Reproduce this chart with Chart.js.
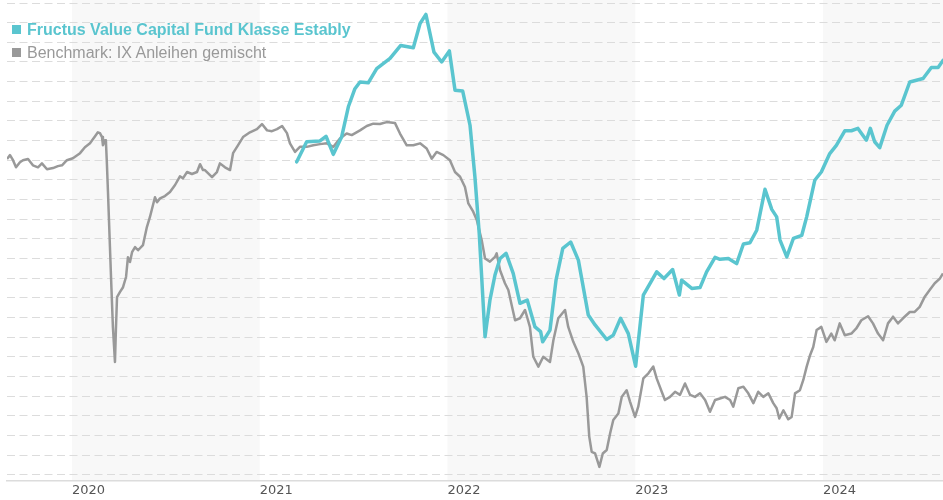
<!DOCTYPE html>
<html>
<head>
<meta charset="utf-8">
<script src="https://cdn.jsdelivr.net/npm/chart.js@4.4.1/dist/chart.umd.min.js"></script>
<style>
  html, body { margin: 0; padding: 0; background: #ffffff; }
  #wrap { position: relative; width: 943px; height: 500px; }
  #legend { position: absolute; left: 0; top: 0; font-family: "Liberation Sans", Arial, sans-serif; font-size: 16px; line-height: 16px; }
  .item { position: absolute; left: 12px; white-space: nowrap; }
  .sw { position: absolute; left: 0; width: 9px; height: 9px; }
  .lbl { position: absolute; left: 15px; white-space: nowrap; }
</style>
</head>
<body>
<div id="wrap">
  <canvas id="c" width="943" height="500"></canvas>
  <div id="legend"></div>
</div>
<script>
// ---- data ----
// dates as decimal years
const xStart = 2019.654;
const xEnd = 2024.639;
const yearTicks = [2020, 2021, 2022, 2023, 2024];
const shadedYears = [2020, 2022, 2024];

const fundName = "Fructus Value Capital Fund Klasse Estably";
const benchName = "Benchmark: IX Anleihen gemischt";

const fundDates = [
  2021.197, 2021.250, 2021.321, 2021.353, 2021.392, 2021.436, 2021.472, 2021.507, 2021.534, 2021.578,
  2021.623, 2021.694, 2021.751, 2021.818, 2021.854, 2021.885, 2021.928, 2021.969, 2022.010, 2022.040,
  2022.081, 2022.120, 2022.146, 2022.169, 2022.200, 2022.226, 2022.253, 2022.280, 2022.312, 2022.350,
  2022.386, 2022.425, 2022.466, 2022.496, 2022.507, 2022.546, 2022.578, 2022.614, 2022.656, 2022.697,
  2022.750, 2022.786, 2022.848, 2022.883, 2022.922, 2022.963, 2023.002, 2023.043, 2023.079, 2023.114,
  2023.153, 2023.199, 2023.235, 2023.247, 2023.301, 2023.345, 2023.380, 2023.425, 2023.451, 2023.496,
  2023.540, 2023.576, 2023.611, 2023.647, 2023.691, 2023.727, 2023.753, 2023.771, 2023.807, 2023.842,
  2023.887, 2023.913, 2023.956, 2023.991, 2024.036, 2024.071, 2024.116, 2024.151, 2024.186, 2024.231,
  2024.252, 2024.275, 2024.302, 2024.341, 2024.382, 2024.417, 2024.462, 2024.533, 2024.577, 2024.613,
  2024.639
];
const fundValues = [
  79.6, 84.7, 84.9, 86.1, 81.5, 85.9, 93.6, 98.2, 99.9, 99.7,
  103.3, 105.9, 109.2, 108.6, 114.8, 117.1, 107.5, 105.0, 107.8, 97.8,
  97.6, 88.9, 75.8, 61.4, 35.1, 44.4, 50.8, 55.0, 56.3, 51.2,
  43.6, 44.4, 37.6, 36.4, 33.8, 36.8, 49.5, 57.6, 59.2, 54.6,
  40.6, 38.1, 34.4, 35.5, 39.8, 35.9, 27.6, 45.7, 48.7, 51.6,
  49.9, 52.2, 45.7, 49.5, 47.4, 47.6, 51.6, 55.3, 54.8, 55.0,
  53.7, 58.7, 59.0, 62.2, 72.6, 67.5, 65.6, 59.7, 55.4, 60.1,
  60.9, 65.6, 74.9, 77.0, 81.7, 83.8, 87.5, 87.5, 88.1, 85.1,
  88.1, 84.7, 83.2, 88.9, 92.5, 94.0, 99.9, 100.8, 103.6, 103.6,
  105.4
];

const benchDates = [
  2019.654, 2019.670, 2019.686, 2019.702, 2019.723, 2019.739, 2019.766, 2019.792, 2019.819, 2019.840,
  2019.867, 2019.899, 2019.925, 2019.947, 2019.973, 2020.005, 2020.043, 2020.069, 2020.096, 2020.123,
  2020.138, 2020.149, 2020.160, 2020.165, 2020.176, 2020.181, 2020.186, 2020.192, 2020.208, 2020.218,
  2020.229, 2020.234, 2020.240, 2020.256, 2020.272, 2020.288, 2020.298, 2020.309, 2020.320, 2020.336,
  2020.352, 2020.378, 2020.399, 2020.415, 2020.442, 2020.453, 2020.469, 2020.495, 2020.522, 2020.549,
  2020.575, 2020.591, 2020.613, 2020.639, 2020.666, 2020.682, 2020.698, 2020.708, 2020.746, 2020.772,
  2020.788, 2020.815, 2020.842, 2020.858, 2020.884, 2020.911, 2020.948, 2020.985, 2021.012, 2021.039,
  2021.065, 2021.092, 2021.119, 2021.145, 2021.161, 2021.188, 2021.214, 2021.250, 2021.285, 2021.321,
  2021.357, 2021.392, 2021.427, 2021.463, 2021.490, 2021.534, 2021.570, 2021.605, 2021.640, 2021.676,
  2021.720, 2021.747, 2021.783, 2021.818, 2021.854, 2021.889, 2021.916, 2021.942, 2021.978, 2022.013,
  2022.040, 2022.067, 2022.093, 2022.111, 2022.137, 2022.156, 2022.182, 2022.200, 2022.226, 2022.253,
  2022.262, 2022.280, 2022.306, 2022.324, 2022.342, 2022.360, 2022.386, 2022.413, 2022.439, 2022.457,
  2022.484, 2022.510, 2022.546, 2022.564, 2022.590, 2022.626, 2022.643, 2022.670, 2022.697, 2022.723,
  2022.741, 2022.755, 2022.768, 2022.786, 2022.809, 2022.827, 2022.848, 2022.866, 2022.883, 2022.910,
  2022.928, 2022.954, 2022.972, 2022.999, 2023.016, 2023.043, 2023.070, 2023.096, 2023.114, 2023.141,
  2023.158, 2023.185, 2023.212, 2023.238, 2023.265, 2023.292, 2023.318, 2023.345, 2023.372, 2023.398,
  2023.425, 2023.451, 2023.478, 2023.505, 2023.522, 2023.549, 2023.576, 2023.602, 2023.629, 2023.655,
  2023.682, 2023.709, 2023.735, 2023.753, 2023.767, 2023.789, 2023.815, 2023.833, 2023.851, 2023.877,
  2023.895, 2023.913, 2023.931, 2023.948, 2023.966, 2023.991, 2024.018, 2024.044, 2024.062, 2024.089,
  2024.116, 2024.151, 2024.177, 2024.204, 2024.240, 2024.266, 2024.293, 2024.320, 2024.346, 2024.373,
  2024.399, 2024.426, 2024.462, 2024.488, 2024.515, 2024.542, 2024.568, 2024.595, 2024.622, 2024.639
];
const benchValues = [
  80.3, 81.3, 80.0, 78.2, 79.5, 80.0, 80.3, 78.7, 78.2, 79.2,
  77.7, 78.0, 78.5, 78.7, 80.0, 80.5, 81.8, 83.3, 84.3, 86.1,
  87.1, 86.9, 85.9, 83.8, 85.1, 84.6, 79.2, 71.6, 50.3, 37.6,
  28.7, 36.8, 45.2, 46.5, 47.7, 50.3, 55.3, 54.1, 56.6, 57.9,
  57.1, 58.4, 63.0, 65.5, 70.6, 69.3, 70.3, 70.9, 71.9, 73.7,
  75.9, 75.4, 77.0, 76.5, 77.0, 79.0, 77.5, 77.5, 75.7, 77.0,
  79.2, 78.2, 77.5, 81.8, 83.8, 85.9, 87.1, 87.9, 89.2, 87.6,
  87.4, 87.9, 88.7, 86.9, 84.3, 82.1, 83.4, 83.4, 83.8, 84.1,
  84.3, 83.4, 85.5, 86.8, 86.4, 87.6, 88.7, 89.3, 89.2, 89.7,
  89.5, 86.8, 83.8, 83.8, 84.3, 83.0, 80.4, 82.1, 81.3, 80.0,
  77.0, 75.8, 73.2, 69.0, 66.9, 64.8, 59.7, 55.0, 54.2, 55.4,
  56.3, 52.0, 48.7, 47.0, 43.1, 39.3, 39.8, 41.9, 37.6, 30.0,
  27.5, 30.0, 28.7, 34.2, 39.8, 41.9, 37.6, 33.8, 30.9, 27.5,
  19.8, 9.7, 5.8, 5.4, 2.0, 5.4, 6.3, 10.5, 13.9, 15.6,
  19.8, 21.5, 18.6, 14.7, 17.3, 24.5, 25.8, 27.5, 24.5, 21.1,
  19.0, 19.8, 21.1, 20.3, 23.2, 20.3, 19.8, 20.7, 19.0, 16.0,
  19.0, 19.4, 19.8, 19.0, 17.3, 22.0, 22.4, 20.7, 18.2, 21.1,
  19.8, 20.7, 18.2, 16.9, 14.3, 16.4, 14.1, 14.7, 20.7, 21.5,
  24.1, 27.5, 30.4, 32.5, 36.8, 37.6, 33.8, 35.9, 34.2, 38.5,
  35.5, 35.9, 37.2, 39.3, 40.3, 38.5, 35.9, 34.2, 38.5, 40.2,
  38.5, 39.8, 41.4, 41.4, 42.7, 45.3, 47.0, 48.7, 49.9, 51.2
];

const yMin = -1.6;
const yMax = 120;
const yStep = 5;

// ---- styles ----
const fundColor = '#5ac5cf';
const benchColor = '#999999';
const bandColor = '#f8f8f8';

const toPoints = (xs, ys) => xs.map((x, i) => ({ x: x, y: ys[i] }));

const bandPlugin = {
  id: 'yearBands',
  beforeDraw(chart) {
    const { ctx, chartArea, scales } = chart;
    const xs = scales.x;
    ctx.save();
    ctx.fillStyle = bandColor;
    shadedYears.forEach(yr => {
      const a = Math.max(xs.getPixelForValue(yr), chartArea.left);
      const b = Math.min(xs.getPixelForValue(yr + 1), chartArea.right);
      if (b > a) ctx.fillRect(a, 0, b - a, chartArea.bottom);
    });
    ctx.restore();
  }
};

new Chart(document.getElementById('c'), {
  type: 'line',
  data: {
    datasets: [
      {
        label: fundName,
        data: toPoints(fundDates, fundValues),
        borderColor: fundColor,
        backgroundColor: fundColor,
        borderWidth: 3.5,
        pointRadius: 0,
        tension: 0,
        borderJoinStyle: 'round',
        borderCapStyle: 'round',
        fill: false
      },
      {
        label: benchName,
        data: toPoints(benchDates, benchValues),
        borderColor: benchColor,
        backgroundColor: benchColor,
        borderWidth: 2.5,
        pointRadius: 0,
        tension: 0,
        borderJoinStyle: 'round',
        fill: false
      }
    ]
  },
  options: {
    responsive: false,
    devicePixelRatio: 1,
    animation: false,
    parsing: true,
    layout: { padding: { left: 7, top: 3, right: 0, bottom: 0 } },
    plugins: {
      legend: { display: false },
      tooltip: { enabled: false }
    },
    scales: {
      x: {
        type: 'linear',
        min: xStart,
        max: xEnd,
        afterBuildTicks: (s) => { s.ticks = yearTicks.map(v => ({ value: v })); },
        afterFit: (s) => { s.height = 19; },
        grid: { display: false, drawTicks: false },
        border: { display: true, color: '#dcdcdc', width: 1.5 },
        ticks: {
          autoSkip: false,
          maxRotation: 0,
          align: 'start',
          padding: 2,
          color: '#555555',
          font: { family: 'DejaVu Sans', size: 13 },
          callback: (v) => String(v)
        }
      },
      y: {
        type: 'linear',
        min: yMin,
        max: yMax,
        afterFit: (s) => { s.width = 0; },
        ticks: { display: false, stepSize: yStep, includeBounds: false },
        grid: { display: true, color: '#dcdcdc', lineWidth: 1, drawTicks: false },
        border: { display: false, dash: [8, 4.5] }
      }
    }
  },
  plugins: [bandPlugin]
});

// ---- legend (HTML text) ----
const legendItems = [
  { text: fundName, color: fundColor, weight: 'bold', top: 21.5, swTop: 3.5 },
  { text: benchName, color: benchColor, weight: 'normal', top: 44.8, swTop: 3.5 }
];
const lg = document.getElementById('legend');
legendItems.forEach(it => {
  const d = document.createElement('div');
  d.className = 'item';
  d.style.top = it.top + 'px';
  const sw = document.createElement('span');
  sw.className = 'sw';
  sw.style.background = it.color;
  sw.style.top = it.swTop + 'px';
  const t = document.createElement('span');
  t.className = 'lbl';
  t.style.color = it.color;
  t.style.fontWeight = it.weight;
  t.textContent = it.text;
  d.appendChild(sw);
  d.appendChild(t);
  lg.appendChild(d);
});
</script>
</body>
</html>
